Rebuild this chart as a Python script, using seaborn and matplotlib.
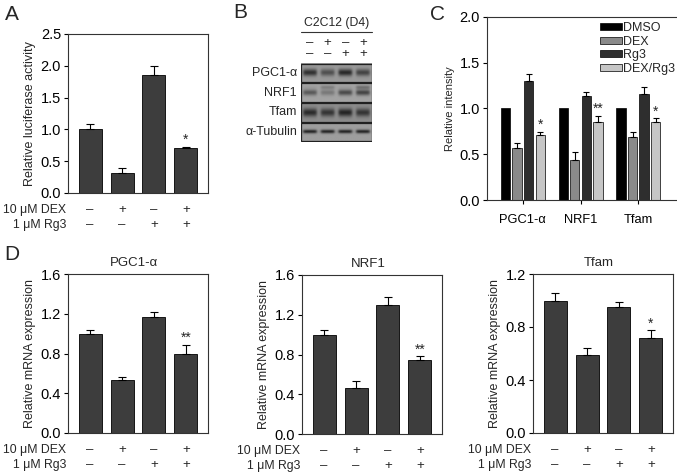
import numpy as np
import pandas as pd
import matplotlib
matplotlib.use('Agg')
import matplotlib.pyplot as plt
import seaborn as sns
from matplotlib.patches import Rectangle

sns.set_theme(style='ticks')
plt.rcParams['font.family'] = ['Liberation Sans', 'DejaVu Sans']
plt.rcParams['axes.edgecolor'] = '#333333'
plt.rcParams['axes.linewidth'] = 0.8

# ---------------- data ----------------
conditions = ['Control', 'DEX', 'Rg3', 'DEX+Rg3']
dex_signs = ['–', '+', '–', '+']
rg3_signs = ['–', '–', '+', '+']
dex_label = '10 μM DEX'
rg3_label = '1 μM Rg3'

# Panel A
luc_mean = [1.00, 0.32, 1.86, 0.70]
luc_err = [0.08, 0.08, 0.14, 0.02]
luc_sig = ['', '', '', '*']

# Panel B (western blot band intensities, relative)
blot_rows = ['PGC1-α', 'NRF1', 'Tfam', 'α-Tubulin']
band_pgc = [0.85, 0.60, 0.92, 0.70]
band_nrf = [0.60, 0.35, 0.72, 0.78]
band_nrf_upper = [0.05, 0.28, 0.05, 0.40]
band_tfam = [0.80, 0.72, 0.85, 0.72]
band_tub = [1.00, 1.00, 1.00, 1.00]
blot_background = [0.60, 0.64, 0.55, 0.62]
blot_header = 'C2C12 (D4)'

# Panel C
genes = ['PGC1-α', 'NRF1', 'Tfam']
groups = ['DMSO', 'DEX', 'Rg3', 'DEX/Rg3']
int_dmso = [1.00, 1.00, 1.00]
int_dex = [0.57, 0.44, 0.69]
int_rg3 = [1.30, 1.13, 1.16]
int_dexrg3 = [0.71, 0.85, 0.85]
err_dmso = [0.0, 0.0, 0.0]
err_dex = [0.05, 0.08, 0.055]
err_rg3 = [0.075, 0.05, 0.07]
err_dexrg3 = [0.03, 0.07, 0.04]
sig_dexrg3 = ['*', '**', '*']
group_colors = ['#000000', '#8a8a8a', '#2e2e2e', '#c6c6c6']

# Panel D
pgc_mean = [1.00, 0.53, 1.17, 0.80]
pgc_err = [0.04, 0.03, 0.05, 0.085]
pgc_sig = ['', '', '', '**']
nrf_mean = [1.00, 0.46, 1.30, 0.745]
nrf_err = [0.05, 0.07, 0.08, 0.035]
nrf_sig = ['', '', '', '**']
tfam_mean = [1.00, 0.59, 0.95, 0.72]
tfam_err = [0.06, 0.05, 0.035, 0.055]
tfam_sig = ['', '', '', '*']

# ---------------- figure ----------------
W, H = 677, 475
fig = plt.figure(figsize=(W / 100, H / 100), dpi=100)
PT = 0.72  # points per pixel at 100 dpi


def px_axes(l, t, r, b):
    return fig.add_axes([l / W, 1 - b / H, (r - l) / W, (b - t) / H])


BAR_COLOR = '#3d3d3d'
TICK_FS = 10.5
LAB_FS = 9
SIGN_FS = 9.5
TREAT_FS = 8.8
STAR_FS = 10


def bar_panel(ax, means, errs, sigs, ymax, yticks, ylabel, title=None):
    df = pd.DataFrame({'cond': conditions, 'val': means})
    sns.barplot(data=df, x='cond', y='val', color=BAR_COLOR, saturation=1,
                edgecolor='black', linewidth=0.6, width=0.72, errorbar=None, ax=ax)
    ax.errorbar(range(len(means)), means, yerr=[np.zeros(len(errs)), errs],
                fmt='none', ecolor='black', elinewidth=0.8, capsize=3, capthick=0.8)
    for i, (m, e, s) in enumerate(zip(means, errs, sigs)):
        if s:
            ax.annotate(s, (i, m + e), xytext=(0, 0), textcoords='offset points',
                        ha='center', va='bottom', fontsize=STAR_FS)
    ax.set_xlim(-0.69, 3.69)
    ax.set_ylim(0, ymax)
    ax.set_yticks(yticks)
    ax.set_yticklabels([f'{t:.1f}' for t in yticks], fontsize=TICK_FS)
    ax.set_xticks([])
    ax.set_xlabel('')
    ax.set_ylabel(ylabel, fontsize=LAB_FS, labelpad=3)
    ax.tick_params(axis='y', length=3, width=0.8, pad=2, colors='black')
    for sp in ax.spines.values():
        sp.set_visible(True)
    for i in range(len(conditions)):
        ax.annotate(dex_signs[i], xy=(i, 0), xycoords=('data', 'axes fraction'),
                    xytext=(0, -17 * PT), textcoords='offset points', ha='center',
                    va='center', fontsize=SIGN_FS, annotation_clip=False)
        ax.annotate(rg3_signs[i], xy=(i, 0), xycoords=('data', 'axes fraction'),
                    xytext=(0, -32 * PT), textcoords='offset points', ha='center',
                    va='center', fontsize=SIGN_FS, annotation_clip=False)
    ax.annotate(dex_label, xy=(0, 0), xycoords='axes fraction', xytext=(-2 * PT, -17 * PT),
                textcoords='offset points', ha='right', va='center', fontsize=TREAT_FS)
    ax.annotate(rg3_label, xy=(0, 0), xycoords='axes fraction', xytext=(-2 * PT, -32 * PT),
                textcoords='offset points', ha='right', va='center', fontsize=TREAT_FS)
    if title:
        ax.annotate(title, xy=(0.5, 1), xycoords='axes fraction', xytext=(-4 * PT, 11 * PT),
                    textcoords='offset points', ha='center', va='center', fontsize=9.5)


# Panel A
axA = px_axes(68, 34, 208, 193)
bar_panel(axA, luc_mean, luc_err, luc_sig, 2.5, [0, 0.5, 1.0, 1.5, 2.0, 2.5],
          'Relative luciferase activity')

# Panel B - western blot
axB = px_axes(301, 63, 372, 142)
axB.set_xlim(0, 4)
axB.set_ylim(4, 0)
axB.axis('off')
band_sets = [band_pgc, band_nrf, band_tfam, band_tub]
band_sigma = [0.13, 0.11, 0.15, 0.07]
xs = np.linspace(0, 4, 200)
ys = np.linspace(0, 1, 50)
XX, YY = np.meshgrid(xs, ys)
for r, (name, bands) in enumerate(zip(blot_rows, band_sets)):
    img = np.full(XX.shape, blot_background[r])
    for j, inten in enumerate(bands):
        lane = 1 / (1 + np.exp((np.abs(XX - (j + 0.5)) - 0.38) / 0.04))
        prof = np.exp(-0.5 * ((YY - 0.5) / band_sigma[r]) ** 2)
        img -= 0.48 * inten * lane * prof
        if r == 1:
            prof2 = np.exp(-0.5 * ((YY - 0.22) / 0.07) ** 2)
            img -= 0.48 * band_nrf_upper[j] * lane * prof2
    img = np.clip(img, 0, 1)
    axB.imshow(img, cmap='gray', vmin=0, vmax=1, aspect='auto',
               extent=(0, 4, r + 0.97, r + 0.03), interpolation='bilinear')
    axB.add_patch(Rectangle((0, r + 0.03), 4, 0.94, fill=False, ec='#202020', lw=0.9))
    axB.annotate(name, xy=(0, r + 0.5), xytext=(-4 * PT, 0), textcoords='offset points',
                 ha='right', va='center', fontsize=9)
axB.set_xlim(0, 4)
axB.set_ylim(4, 0)
for j in range(4):
    axB.text(j + 0.5, -1.0, dex_signs[j], ha='center', va='center', fontsize=SIGN_FS)
    axB.text(j + 0.5, -0.45, rg3_signs[j], ha='center', va='center', fontsize=SIGN_FS)
axB.annotate(dex_label, xy=(0, -1.0), xytext=(-3 * PT, 0), textcoords='offset points',
             ha='right', va='center', fontsize=TREAT_FS)
axB.annotate(rg3_label, xy=(0, -0.45), xytext=(-3 * PT, 0), textcoords='offset points',
             ha='right', va='center', fontsize=TREAT_FS)
axB.text(2, -2.05, blot_header, ha='center', va='center', fontsize=8.8)
axB.plot([0, 4], [-1.55, -1.55], color='#333333', lw=0.8, clip_on=False)

# Panel C
axC = px_axes(487, 16.7, 677, 200)
int_means = [int_dmso, int_dex, int_rg3, int_dexrg3]
int_errs = [err_dmso, err_dex, err_rg3, err_dexrg3]
dfC = pd.DataFrame({
    'gene': genes * len(groups),
    'group': np.repeat(groups, len(genes)),
    'val': np.concatenate(int_means),
})
sns.barplot(data=dfC, x='gene', y='val', hue='group', order=genes, hue_order=groups,
            palette=group_colors, saturation=1, edgecolor='black', linewidth=0.5,
            width=0.8, gap=0.2, errorbar=None, ax=axC)
for cont, means, errs, gname in zip(axC.containers, int_means, int_errs, groups):
    xcent = [b.get_x() + b.get_width() / 2 for b in cont]
    if any(e > 0 for e in errs):
        axC.errorbar(xcent, means, yerr=[np.zeros(len(errs)), errs], fmt='none',
                     ecolor='black', elinewidth=0.8, capsize=2.5, capthick=0.8)
    if gname == 'DEX/Rg3':
        for x, m, e, s in zip(xcent, means, errs, sig_dexrg3):
            axC.annotate(s, (x, m + e), xytext=(0, 0), textcoords='offset points',
                         ha='center', va='bottom', fontsize=STAR_FS)
axC.set_xlim(-0.62, 2.67)
axC.set_ylim(0, 2.0)
axC.set_yticks([0, 0.5, 1.0, 1.5, 2.0])
axC.set_yticklabels(['0.0', '0.5', '1.0', '1.5', '2.0'], fontsize=TICK_FS)
axC.set_xticklabels(genes, fontsize=9.3)
axC.set_xlabel('')
axC.set_ylabel('Relative intensity', fontsize=8, labelpad=3)
axC.tick_params(axis='both', length=3, width=0.8, pad=2, colors='black')
axC.tick_params(axis='x', pad=7)
axC.spines['right'].set_visible(False)
axC.spines['top'].set_visible(True)
leg = axC.legend(loc='upper left', bbox_to_anchor=(0.595, 0.97), frameon=False,
                 fontsize=9, handlelength=1.75, handleheight=0.5, handletextpad=0.1,
                 labelspacing=0.12, borderpad=0, borderaxespad=0)
for h in leg.legend_handles:
    h.set_edgecolor('black')
    h.set_linewidth(0.5)

# Panel D
axD1 = px_axes(68, 274, 208, 433)
bar_panel(axD1, pgc_mean, pgc_err, pgc_sig, 1.6, [0, 0.4, 0.8, 1.2, 1.6],
          'Relative mRNA expression', title='PGC1-α')
axD2 = px_axes(302, 275, 442, 434)
bar_panel(axD2, nrf_mean, nrf_err, nrf_sig, 1.6, [0, 0.4, 0.8, 1.2, 1.6],
          'Relative mRNA expression', title='NRF1')
axD3 = px_axes(533, 274, 673, 433)
bar_panel(axD3, tfam_mean, tfam_err, tfam_sig, 1.2, [0, 0.4, 0.8, 1.2],
          'Relative mRNA expression', title='Tfam')

# panel letters
for letter, (x, y) in zip('ABCD', [(12, 15), (240, 12), (438, 15), (12, 255)]):
    fig.text(x / W, 1 - y / H, letter, fontsize=15, ha='center', va='center')

fig.savefig('out.png', dpi=100)
